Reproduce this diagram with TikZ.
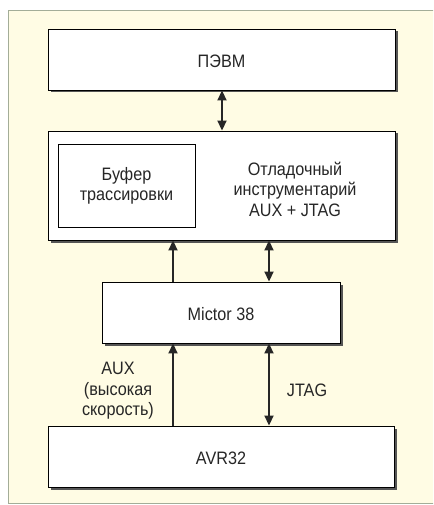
\documentclass[tikz,border=0pt]{standalone}
\usepackage{fontspec}
\setmainfont[FakeStretch=0.9]{Liberation Sans}
\usetikzlibrary{arrows.meta,shadows}
\definecolor{cream}{HTML}{FFFCE4}
\definecolor{framec}{HTML}{A3AD98}
\definecolor{shade}{HTML}{555555}
\tikzset{
  blk/.style={draw=black, line width=0.9pt, fill=white, rectangle, inner sep=0pt,
    drop shadow={shadow xshift=2.5pt, shadow yshift=-2.5pt, fill=shade, opacity=1}},
  inbox/.style={draw=black, line width=0.9pt, fill=white, rectangle, inner sep=0pt},
  lbl/.style={font=\fontsize{18}{20.5}\selectfont, align=center, text=black!85},
  conn/.style={line width=1.8pt, black!85, -{Triangle[width=9pt,length=10pt]}},
  dconn/.style={line width=1.8pt, black!85, {Triangle[width=9pt,length=10pt]}-{Triangle[width=9pt,length=10pt]}}
}
\begin{document}
\begin{tikzpicture}[x=1pt,y=-1pt]
\useasboundingbox (0,0) rectangle (433,505);
\clip (0,0) rectangle (433,505);
\fill[white] (0,0) rectangle (433,505);
\filldraw[fill=cream, draw=framec, line width=1pt] (8,11) rectangle (480,503);
\node[blk, minimum width=347pt, minimum height=61pt] (pc) at (221.5,59.5) {};
\node[lbl] (pct) at (221.5,61) {ПЭВМ};
\node[blk, minimum width=347pt, minimum height=109pt] (dbg) at (221.5,185.5) {};
\node[inbox, minimum width=137pt, minimum height=83pt] (buf) at (126.5,185.5) {};
\node[lbl] (buft) at (126.5,186) {Буфер\\трассировки};
\node[lbl] (dbgt) at (295,189) {Отладочный\\инструментарий\\AUX + JTAG};
\node[blk, minimum width=238pt, minimum height=61pt] (mic) at (221,312.5) {};
\node[lbl] (mict) at (221,314) {Mictor 38};
\node[blk, minimum width=346pt, minimum height=61pt] (avr) at (221,456.5) {};
\node[lbl] (avrt) at (221,458) {AVR32};
\coordinate (lx) at (173,0);
\coordinate (rx) at (269,0);
\coordinate (cx) at (222,0);
\draw[dconn] (pc.south -| cx) -- (dbg.north -| cx);
\draw[conn] (mic.north -| lx) -- (dbg.south -| lx);
\draw[dconn] (mic.north -| rx) -- (dbg.south -| rx);
\draw[conn] (avr.north -| lx) -- (mic.south -| lx);
\draw[dconn] (avr.north -| rx) -- (mic.south -| rx);
\node[lbl] (auxt) at (118,391) {AUX\\(высокая\\скорость)};
\node[lbl] (jtagt) at (307,390) {JTAG};
\end{tikzpicture}
\end{document}
